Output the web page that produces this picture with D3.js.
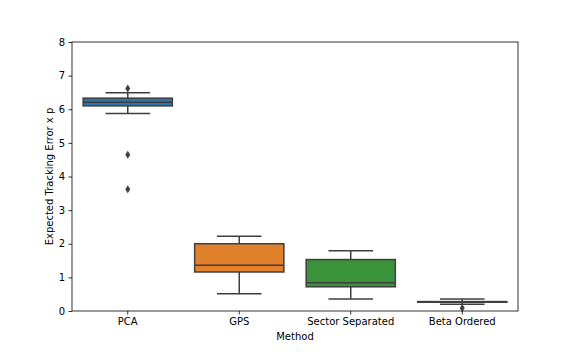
<!DOCTYPE html>
<html><head><meta charset="utf-8">
<script src="https://cdn.jsdelivr.net/npm/d3@7"></script>
<style>body{margin:0;background:#fff}svg{display:block}text{font-family:"DejaVu Sans",sans-serif}</style>
</head><body><svg id="c" width="576" height="355"></svg>
<script>
const categories = ["PCA", "GPS", "Sector Separated", "Beta Ordered"];
const colors = ["#3274a1", "#e1812c", "#3a923a", "#c03d3e"];
const whiskerLow = [5.87, 0.51, 0.36, 0.20];
const q1 = [6.10, 1.16, 0.72, 0.26];
const median = [6.21, 1.36, 0.84, 0.27];
const q3 = [6.33, 2.00, 1.53, 0.28];
const whiskerHigh = [6.49, 2.22, 1.79, 0.36];
const outliers = [[6.62, 4.65, 3.62], [], [], [0.09]];
const yTicks = [0, 1, 2, 3, 4, 5, 6, 7, 8];
const yLabel = "Expected Tracking Error x p";
const xLabel = "Method";

const svg = d3.select("#c");
const L = 72, R = 518, T = 42, B = 311;
const x = d3.scaleBand().domain(categories).range([L, R]).paddingInner(0).paddingOuter(0);
const y = d3.scaleLinear().domain([0, 8]).range([B, T]);
const line = "#3f3f3f";
const bw = x.bandwidth() * 0.8;

const g = svg.append("g");
categories.forEach((c, i) => {
  const cx = x(c) + x.bandwidth() / 2;
  g.append("line").attr("x1", cx).attr("x2", cx).attr("y1", y(q3[i])).attr("y2", y(whiskerHigh[i])).attr("stroke", line).attr("stroke-width", 1.5);
  g.append("line").attr("x1", cx).attr("x2", cx).attr("y1", y(q1[i])).attr("y2", y(whiskerLow[i])).attr("stroke", line).attr("stroke-width", 1.5);
  [whiskerHigh[i], whiskerLow[i]].forEach(v => {
    g.append("line").attr("x1", cx - bw / 4).attr("x2", cx + bw / 4).attr("y1", y(v)).attr("y2", y(v)).attr("stroke", line).attr("stroke-width", 1.5);
  });
  g.append("rect").attr("x", cx - bw / 2).attr("width", bw).attr("y", y(q3[i])).attr("height", y(q1[i]) - y(q3[i]))
    .attr("fill", colors[i]).attr("stroke", line).attr("stroke-width", 1.5);
  g.append("line").attr("x1", cx - bw / 2).attr("x2", cx + bw / 2).attr("y1", y(median[i])).attr("y2", y(median[i])).attr("stroke", line).attr("stroke-width", 1.5);
  outliers[i].forEach(v => {
    const py = y(v);
    g.append("path").attr("d", `M${cx},${py - 4}L${cx + 2.5},${py}L${cx},${py + 4}L${cx - 2.5},${py}Z`).attr("fill", line);
  });
});

const yAxis = svg.append("g").attr("transform", `translate(${L},0)`).call(d3.axisLeft(y).tickValues(yTicks).tickSize(3.5).tickPadding(3.5).tickFormat(d3.format("d")));
const xAxis = svg.append("g").attr("transform", `translate(0,${B})`).call(d3.axisBottom(x).tickSize(3.5).tickPadding(3.5));
[yAxis, xAxis].forEach(a => {
  a.select(".domain").remove();
  a.selectAll("line").attr("stroke", "#000").attr("stroke-width", 0.8);
  a.selectAll("text").attr("font-size", 10).attr("fill", "#000").attr("font-family", "DejaVu Sans");
});
svg.append("rect").attr("x", L).attr("y", T).attr("width", R - L).attr("height", B - T).attr("fill", "none").attr("stroke", "#000").attr("stroke-width", 0.8);

svg.append("text").attr("x", (L + R) / 2).attr("y", 340).attr("text-anchor", "middle").attr("font-size", 10).text(xLabel);
svg.append("text").attr("transform", `translate(53,${(T + B) / 2}) rotate(-90)`).attr("text-anchor", "middle").attr("font-size", 10).text(yLabel);
</script></body></html>
